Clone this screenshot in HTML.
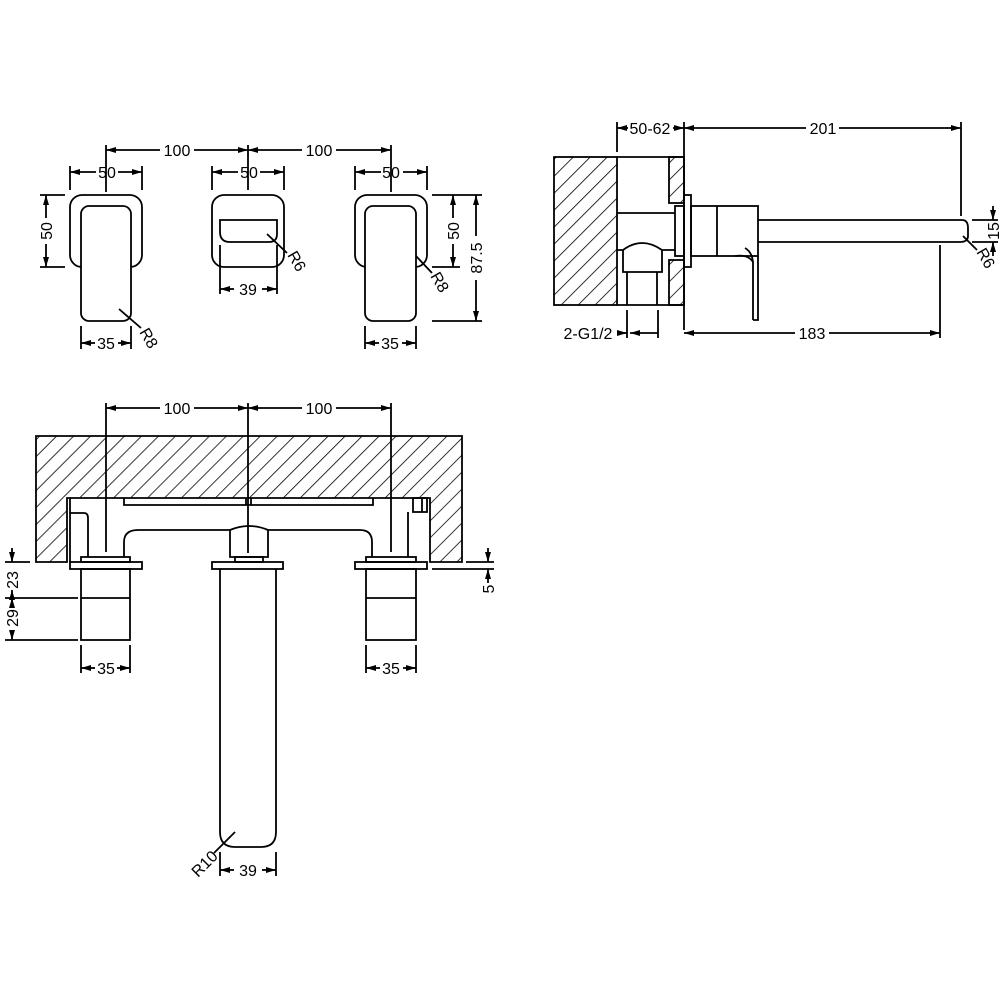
<!DOCTYPE html>
<html><head><meta charset="utf-8"><style>
html,body{margin:0;padding:0;background:#fff}
svg{display:block}
text{font-family:"Liberation Sans",sans-serif;font-size:16px;fill:#000}
</style></head><body>
<svg width="1000" height="1000" viewBox="0 0 1000 1000" xmlns="http://www.w3.org/2000/svg">
<defs>
<pattern id="h" width="12" height="12" patternUnits="userSpaceOnUse" patternTransform="rotate(45)">
<line x1="0" y1="0" x2="0" y2="12" stroke="#000" stroke-width="1.6"/>
</pattern>
<marker id="a" viewBox="0 0 10 6" refX="10" refY="3" markerWidth="10" markerHeight="6" markerUnits="userSpaceOnUse" orient="auto-start-reverse">
<path d="M0,0 L10,3 L0,6z" fill="#000"/>
</marker>
</defs>
<g fill="none" stroke="#000" stroke-width="1.8">
<!-- ========== TOP LEFT VIEW ========== -->
<line x1="106" y1="145" x2="106" y2="192"/>
<line x1="248" y1="145" x2="248" y2="190"/>
<line x1="391" y1="145" x2="391" y2="192"/>
<line x1="106" y1="150" x2="160" y2="150" marker-start="url(#a)"/>
<line x1="194" y1="150" x2="248" y2="150" marker-end="url(#a)"/>
<line x1="248" y1="150" x2="302" y2="150" marker-start="url(#a)"/>
<line x1="336" y1="150" x2="391" y2="150" marker-end="url(#a)"/>
<rect x="70" y="195" width="72" height="72" rx="12"/>
<rect x="81" y="206" width="50" height="115" rx="8" fill="#fff"/>
<line x1="70" y1="166" x2="70" y2="190"/><line x1="142" y1="166" x2="142" y2="190"/>
<line x1="70" y1="172" x2="96" y2="172" marker-start="url(#a)"/><line x1="118" y1="172" x2="142" y2="172" marker-end="url(#a)"/>
<line x1="40" y1="195" x2="65" y2="195"/><line x1="40" y1="267" x2="65" y2="267"/>
<line x1="46" y1="195" x2="46" y2="218" marker-start="url(#a)"/><line x1="46" y1="244" x2="46" y2="267" marker-end="url(#a)"/>
<line x1="81" y1="326" x2="81" y2="349"/><line x1="131" y1="326" x2="131" y2="349"/>
<line x1="81" y1="343" x2="95" y2="343" marker-start="url(#a)"/><line x1="118" y1="343" x2="131" y2="343" marker-end="url(#a)"/>
<line x1="119" y1="309" x2="141" y2="328"/>
<rect x="212" y="195" width="72" height="72" rx="12"/>
<path d="M220,220 H277 V234 Q277,242 269,242 H230 Q220,242 220,232 Z"/>
<line x1="220" y1="245" x2="220" y2="294"/><line x1="277" y1="245" x2="277" y2="294"/>
<line x1="212" y1="166" x2="212" y2="190"/><line x1="284" y1="166" x2="284" y2="190"/>
<line x1="212" y1="172" x2="238" y2="172" marker-start="url(#a)"/><line x1="260" y1="172" x2="284" y2="172" marker-end="url(#a)"/>
<line x1="220" y1="289" x2="234" y2="289" marker-start="url(#a)"/><line x1="262" y1="289" x2="277" y2="289" marker-end="url(#a)"/>
<line x1="267" y1="234" x2="287" y2="253"/>
<rect x="355" y="195" width="72" height="72" rx="12"/>
<rect x="365" y="206" width="51" height="115" rx="8" fill="#fff"/>
<line x1="355" y1="166" x2="355" y2="190"/><line x1="427" y1="166" x2="427" y2="190"/>
<line x1="355" y1="172" x2="381" y2="172" marker-start="url(#a)"/><line x1="403" y1="172" x2="427" y2="172" marker-end="url(#a)"/>
<line x1="432" y1="195" x2="482" y2="195"/><line x1="432" y1="267" x2="460" y2="267"/><line x1="432" y1="321" x2="482" y2="321"/>
<line x1="453" y1="195" x2="453" y2="218" marker-start="url(#a)"/><line x1="453" y1="244" x2="453" y2="267" marker-end="url(#a)"/>
<line x1="476" y1="195" x2="476" y2="236" marker-start="url(#a)"/><line x1="476" y1="280" x2="476" y2="321" marker-end="url(#a)"/>
<line x1="365" y1="326" x2="365" y2="349"/><line x1="416" y1="326" x2="416" y2="349"/>
<line x1="365" y1="343" x2="379" y2="343" marker-start="url(#a)"/><line x1="402" y1="343" x2="416" y2="343" marker-end="url(#a)"/>
<line x1="416" y1="256" x2="432" y2="273"/>

<!-- ========== TOP RIGHT VIEW ========== -->
<rect x="554" y="157" width="63" height="148" fill="url(#h)"/>
<line x1="617" y1="157" x2="684" y2="157"/>
<line x1="617" y1="305" x2="684" y2="305"/>
<rect x="669" y="157" width="15" height="46" fill="url(#h)"/>
<rect x="669" y="260" width="15" height="45" fill="url(#h)"/>
<line x1="617" y1="213" x2="675" y2="213"/>
<path d="M617,250 H623 Q642,236 662,250 H675"/>
<path d="M623,250 V272 H662 V250"/>
<line x1="627" y1="272" x2="627" y2="305"/><line x1="657" y1="272" x2="657" y2="305"/>
<rect x="675" y="206" width="9" height="50" fill="#fff"/>
<rect x="684" y="195" width="7" height="72" fill="#fff"/>
<rect x="691" y="206" width="67" height="50"/>
<line x1="717" y1="206" x2="717" y2="256"/>
<path d="M758,220 H962 Q968,220 968,228 V236 Q968,242 960,242 H758"/>
<path d="M753,320 H758 V256 M753,320 V262 Q752,252 745,248"/>
<path d="M735,256 Q748,254 753,262"/>
<line x1="617" y1="122" x2="617" y2="152"/><line x1="684" y1="122" x2="684" y2="330"/>
<line x1="961" y1="122" x2="961" y2="216"/>
<line x1="617" y1="128" x2="628" y2="128" marker-start="url(#a)"/><line x1="673" y1="128" x2="684" y2="128" marker-end="url(#a)"/>
<line x1="684" y1="128" x2="806" y2="128" marker-start="url(#a)"/><line x1="839" y1="128" x2="961" y2="128" marker-end="url(#a)"/>
<line x1="940" y1="245" x2="940" y2="338"/>
<line x1="684" y1="333" x2="795" y2="333" marker-start="url(#a)"/><line x1="829" y1="333" x2="940" y2="333" marker-end="url(#a)"/>
<line x1="627" y1="310" x2="627" y2="338"/><line x1="658" y1="310" x2="658" y2="338"/>
<line x1="618" y1="333" x2="627" y2="333" marker-end="url(#a)"/><line x1="658" y1="333" x2="630" y2="333" marker-end="url(#a)"/>
<line x1="972" y1="220" x2="998" y2="220"/><line x1="972" y1="242" x2="998" y2="242"/>
<line x1="993" y1="206" x2="993" y2="220" marker-end="url(#a)"/><line x1="993" y1="256" x2="993" y2="242" marker-end="url(#a)"/>
<line x1="963" y1="236" x2="977" y2="250"/>

<!-- ========== BOTTOM VIEW ========== -->
<path d="M36,436 H462 V562 H430 V498 H67 V562 H36 Z" fill="url(#h)"/>
<line x1="70" y1="498" x2="70" y2="562"/>
<path d="M70,513 H84 Q88,513 88,518 V557"/>
<path d="M124,498 V505 H373 V498"/>
<line x1="246" y1="498" x2="246" y2="505"/><line x1="251" y1="498" x2="251" y2="505"/>
<path d="M124,557 V542 Q124,530 138,530 H230"/>
<path d="M268,530 H360 Q372,530 372,542 V557"/>
<path d="M230,557 V530 Q249,522 268,530 V557 Z"/>
<rect x="235" y="557" width="28" height="5"/>
<rect x="413" y="498" width="14" height="14"/>
<line x1="422" y1="498" x2="422" y2="512"/>
<line x1="408" y1="512" x2="408" y2="557"/>
<rect x="81" y="557" width="49" height="5"/>
<rect x="70" y="562" width="72" height="7"/>
<rect x="81" y="569" width="49" height="71"/><line x1="81" y1="598" x2="130" y2="598"/>
<rect x="366" y="557" width="50" height="5"/>
<rect x="355" y="562" width="72" height="7"/>
<rect x="366" y="569" width="50" height="71"/><line x1="366" y1="598" x2="416" y2="598"/>
<rect x="212" y="562" width="71" height="7"/>
<path d="M220,569 V832 Q220,847 235,847 H261 Q276,847 276,832 V569"/>
<line x1="106" y1="403" x2="106" y2="552"/><line x1="248" y1="403" x2="248" y2="553"/><line x1="391" y1="403" x2="391" y2="552"/>
<line x1="106" y1="408" x2="160" y2="408" marker-start="url(#a)"/><line x1="194" y1="408" x2="248" y2="408" marker-end="url(#a)"/>
<line x1="248" y1="408" x2="302" y2="408" marker-start="url(#a)"/><line x1="336" y1="408" x2="391" y2="408" marker-end="url(#a)"/>
<line x1="5" y1="562" x2="30" y2="562"/><line x1="5" y1="598" x2="78" y2="598"/><line x1="5" y1="640" x2="78" y2="640"/>
<line x1="12" y1="548" x2="12" y2="562" marker-end="url(#a)"/>
<line x1="12" y1="598" x2="12" y2="590" marker-end="url(#a)"/>
<line x1="12" y1="598" x2="12" y2="606" marker-start="url(#a)"/>
<line x1="12" y1="630" x2="12" y2="640" marker-end="url(#a)"/>
<line x1="466" y1="562" x2="494" y2="562"/><line x1="432" y1="569" x2="494" y2="569"/>
<line x1="488" y1="548" x2="488" y2="562" marker-end="url(#a)"/>
<line x1="488" y1="583" x2="488" y2="569" marker-end="url(#a)"/>
<line x1="81" y1="645" x2="81" y2="673"/><line x1="130" y1="645" x2="130" y2="673"/>
<line x1="81" y1="668" x2="95" y2="668" marker-start="url(#a)"/><line x1="117" y1="668" x2="130" y2="668" marker-end="url(#a)"/>
<line x1="366" y1="645" x2="366" y2="673"/><line x1="416" y1="645" x2="416" y2="673"/>
<line x1="366" y1="668" x2="380" y2="668" marker-start="url(#a)"/><line x1="403" y1="668" x2="416" y2="668" marker-end="url(#a)"/>
<line x1="220" y1="852" x2="220" y2="876"/><line x1="276" y1="852" x2="276" y2="876"/>
<line x1="220" y1="870" x2="234" y2="870" marker-start="url(#a)"/><line x1="262" y1="870" x2="276" y2="870" marker-end="url(#a)"/>
<line x1="235" y1="832" x2="214" y2="853"/>
</g>
<text x="177" y="156" text-anchor="middle">100</text>
<text x="319" y="156" text-anchor="middle">100</text>
<text x="107" y="178" text-anchor="middle">50</text>
<text x="249" y="178" text-anchor="middle">50</text>
<text x="391" y="178" text-anchor="middle">50</text>
<text transform="translate(52,231) rotate(-90)" text-anchor="middle">50</text>
<text transform="translate(459,231) rotate(-90)" text-anchor="middle">50</text>
<text transform="translate(482,258) rotate(-90)" text-anchor="middle">87.5</text>
<text x="106" y="349" text-anchor="middle">35</text>
<text x="390" y="349" text-anchor="middle">35</text>
<text x="248" y="295" text-anchor="middle">39</text>
<text transform="translate(139,332) rotate(60)">R8</text>
<text transform="translate(287,255) rotate(60)">R6</text>
<text transform="translate(430,276) rotate(60)">R8</text>
<text x="650" y="134" text-anchor="middle">50-62</text>
<text x="823" y="134" text-anchor="middle">201</text>
<text x="812" y="339" text-anchor="middle">183</text>
<text x="588" y="339" text-anchor="middle">2-G1/2</text>
<text transform="translate(999,231) rotate(-90)" text-anchor="middle">15</text>
<text transform="translate(976,252) rotate(60)">R6</text>
<text x="177" y="414" text-anchor="middle">100</text>
<text x="319" y="414" text-anchor="middle">100</text>
<text transform="translate(18,580) rotate(-90)" text-anchor="middle">23</text>
<text transform="translate(18,618) rotate(-90)" text-anchor="middle">29</text>
<text transform="translate(494,589) rotate(-90)" text-anchor="middle">5</text>
<text x="106" y="674" text-anchor="middle">35</text>
<text x="391" y="674" text-anchor="middle">35</text>
<text x="248" y="876" text-anchor="middle">39</text>
<text transform="translate(198,878) rotate(-45)">R10</text>
</svg>
</body></html>
